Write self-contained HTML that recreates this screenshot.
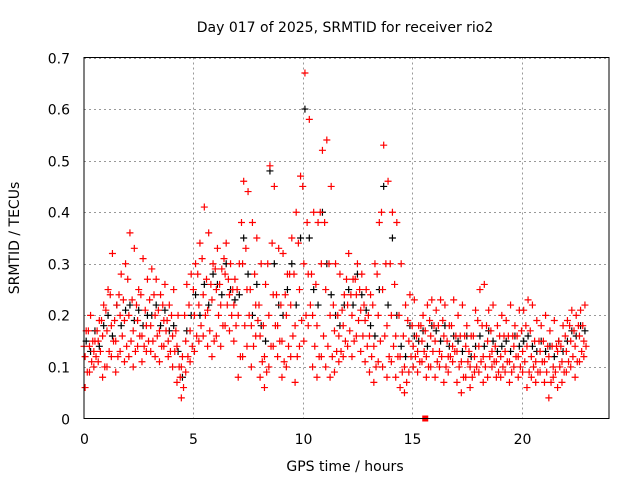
<!DOCTYPE html>
<html><head><meta charset="utf-8">
<style>
body{margin:0;background:#fff;}
svg{display:block;font-family:"DejaVu Sans","Liberation Sans",sans-serif;}
</style></head>
<body>
<svg id="chart" width="640" height="480" viewBox="0 0 640 480">
<rect width="640" height="480" fill="#fff"/>
<text x="345" y="32" font-size="14" text-anchor="middle" fill="#000">Day 017 of 2025, SRMTID for receiver rio2</text>
<text transform="translate(19,238) rotate(-90)" font-size="14" text-anchor="middle">SRMTID / TECUs</text>
<text x="345" y="471" font-size="14" text-anchor="middle">GPS time / hours</text>
<g id="grid"></g>
<g id="ticks"></g>
<g id="black"></g>
<g id="red"></g>
<rect x="84" y="57.5" width="525" height="361" fill="none" stroke="#000" stroke-width="1"/>
</svg>
<script>
const xTicks=[0,5,10,15,20];
const yTicks=[0,0.1,0.2,0.3,0.4,0.5,0.6,0.7];
const yTickLabels=["0","0.1","0.2","0.3","0.4","0.5","0.6","0.7"];
const timeStep=0.2;
const redHigh=[.17,.20,.15,.19,.22,.25,.32,.22,.28,.30,.36,.33,.25,.31,.27,.29,.27,.24,.26,.22,.25,.20,.12,.26,.28,.30,.34,.41,.36,.30,.33,.29,.34,.30,.27,.30,.46,.44,.38,.35,.30,.26,.49,.45,.33,.32,.28,.35,.40,.47,.67,.58,.40,.38,.52,.54,.45,.30,.28,.24,.32,.27,.30,.28,.25,.24,.30,.38,.53,.46,.40,.38,.30,.22,.24,.23,.18,.20,.22,.23,.21,.23,.22,.18,.23,.20,.22,.18,.16,.21,.25,.26,.21,.22,.18,.20,.19,.22,.18,.21,.21,.23,.22,.19,.18,.20,.17,.19,.15,.18,.19,.21,.20,.21,.22];
const redQ3=[.14,.17,.15,.17,.19,.21,.24,.19,.24,.23,.27,.23,.22,.24,.21,.23,.24,.21,.22,.19,.20,.17,.08,.20,.22,.25,.28,.31,.27,.26,.29,.26,.31,.27,.25,.25,.38,.33,.25,.28,.22,.18,.30,.34,.24,.22,.24,.28,.28,.34,.45,.38,.28,.26,.40,.38,.30,.22,.20,.21,.27,.24,.27,.25,.22,.20,.22,.28,.40,.30,.30,.26,.20,.16,.19,.18,.16,.18,.17,.19,.18,.18,.19,.15,.18,.16,.16,.16,.13,.16,.19,.18,.18,.17,.14,.16,.16,.16,.16,.16,.17,.18,.17,.15,.15,.15,.14,.14,.14,.14,.16,.18,.17,.18,.18];
const redMid=[.12,.14,.13,.15,.16,.17,.18,.15,.20,.19,.20,.17,.19,.16,.18,.18,.20,.17,.19,.15,.16,.14,.10,.15,.17,.20,.22,.24,.21,.23,.25,.22,.28,.24,.22,.20,.30,.25,.18,.22,.16,.12,.20,.24,.18,.15,.20,.22,.18,.25,.30,.28,.20,.18,.30,.25,.20,.17,.16,.18,.22,.20,.24,.21,.19,.16,.14,.20,.25,.18,.20,.16,.12,.10,.15,.14,.13,.15,.12,.16,.15,.13,.16,.12,.14,.13,.11,.14,.10,.12,.14,.12,.15,.13,.11,.12,.13,.11,.14,.12,.13,.14,.12,.11,.13,.11,.12,.10,.13,.11,.13,.15,.14,.16,.15];
const redQ1=[.09,.11,.12,.13,.10,.13,.15,.12,.16,.14,.15,.13,.16,.14,.15,.15,.16,.14,.17,.13,.13,.10,.06,.12,.14,.16,.18,.20,.17,.15,.20,.18,.22,.20,.18,.12,.18,.20,.14,.19,.11,.09,.14,.18,.15,.11,.14,.16,.12,.19,.20,.22,.14,.12,.16,.14,.12,.13,.13,.15,.17,.15,.19,.16,.14,.12,.10,.15,.16,.12,.14,.12,.09,.07,.12,.12,.11,.13,.10,.13,.11,.12,.10,.12,.13,.10,.08,.11,.08,.10,.11,.10,.12,.11,.09,.10,.11,.09,.12,.10,.11,.09,.10,.09,.11,.09,.07,.09,.10,.09,.11,.12,.11,.13,.14];
const redLow=[.06,.09,.10,.11,.08,.10,.12,.09,.13,.11,.12,.10,.14,.11,.13,.13,.12,.11,.14,.12,.10,.07,.04,.09,.11,.13,.15,.16,.14,.12,.16,.14,.18,.17,.15,.08,.12,.14,.10,.16,.08,.06,.10,.14,.12,.08,.10,.12,.07,.14,.15,.18,.10,.08,.12,.10,.08,.09,.11,.12,.14,.12,.16,.13,.11,.09,.07,.11,.10,.08,.11,.08,.06,.05,.09,.10,.09,.11,.08,.10,.08,.10,.07,.09,.11,.07,.05,.08,.06,.09,.09,.07,.08,.10,.08,.08,.09,.07,.10,.08,.09,.06,.08,.07,.09,.07,.04,.08,.06,.07,.09,.10,.08,.11,.12];
const blackVals=[.15,.13,.17,.14,.18,.20,.16,.22,.18,.21,.22,.19,.21,.18,.20,.20,.22,.18,.21,.17,.18,.13,.08,.17,.20,.24,.20,.26,.22,.28,.26,.24,.30,.25,.23,.24,.35,.28,.20,.26,.18,.15,.48,.30,.22,.20,.25,.30,.22,.35,.60,.35,.25,.22,.40,.30,.24,.20,.18,.22,.25,.22,.28,.24,.21,.18,.16,.25,.45,.22,.35,.20,.14,.12,.18,.16,.15,.17,.14,.18,.17,.15,.18,.14,.16,.15,.13,.16,.12,.14,.16,.14,.17,.15,.13,.14,.15,.13,.16,.14,.15,.16,.14,.13,.15,.13,.14,.12,.15,.13,.15,.17,.16,.18,.17];
const squareTime=[15.6];
const squareVal=[0];

const X0=84,X1=609,Y0=418.5,Y1=57.5,XMAX=24,YMAX=0.7;
function sx(t){return X0+(X1-X0)*t/XMAX;}
function sy(v){return Y0-(Y0-Y1)*v/YMAX;}
const NS="http://www.w3.org/2000/svg";
function mk(tag,attrs,parent){const e=document.createElementNS(NS,tag);for(const k in attrs)e.setAttribute(k,attrs[k]);parent.appendChild(e);return e;}
const grid=document.getElementById('grid'),ticks=document.getElementById('ticks');
xTicks.forEach(t=>{
  const x=Math.round(sx(t))+0.5;
  if(t>0){const l=mk('line',{x1:x,x2:x,y1:Y1,y2:Y0,stroke:'#999','stroke-dasharray':'2,3'},grid);
  
  }
  const tx=mk('text',{x:x,y:444,'font-size':14,'text-anchor':'middle'},ticks);tx.textContent=t;
  
  
});
yTicks.forEach((v,i)=>{
  const y=Math.round(sy(v))+0.5;
  if(v>0){const l=mk('line',{x1:X0,x2:X1,y1:y,y2:y,stroke:'#999','stroke-dasharray':'2,3'},grid);
  
  }
  const tx=mk('text',{x:70,y:y+5,'font-size':14,'text-anchor':'end'},ticks);tx.textContent=yTickLabels[i];
  
  
});
function plus(g,t,v,color){
  const x=sx(t),y=sy(v);
  const p=mk('path',{d:`M${x-3.5},${y}H${x+3.5}M${x},${y-3.5}V${y+3.5}`,stroke:color,'stroke-width':1.2,fill:'none'},g);
  
  
}
const bg=document.getElementById('black'),rg=document.getElementById('red');
blackVals.forEach((v,i)=>plus(bg,0.1+i*timeStep,v,'#000'));
[[redLow,0.05],[redQ1,0.15],[redMid,0.05],[redQ3,0.0],[redHigh,0.1]].forEach(([arr,off])=>arr.forEach((v,i)=>plus(rg,i*timeStep+off,v,'#f00')));
squareTime.forEach((t,i)=>{
  const r=mk('rect',{x:sx(t)-3,y:sy(squareVal[i])-3,width:6,height:6,fill:'#f00'},rg);
  
  
});
</script>
</body></html>
